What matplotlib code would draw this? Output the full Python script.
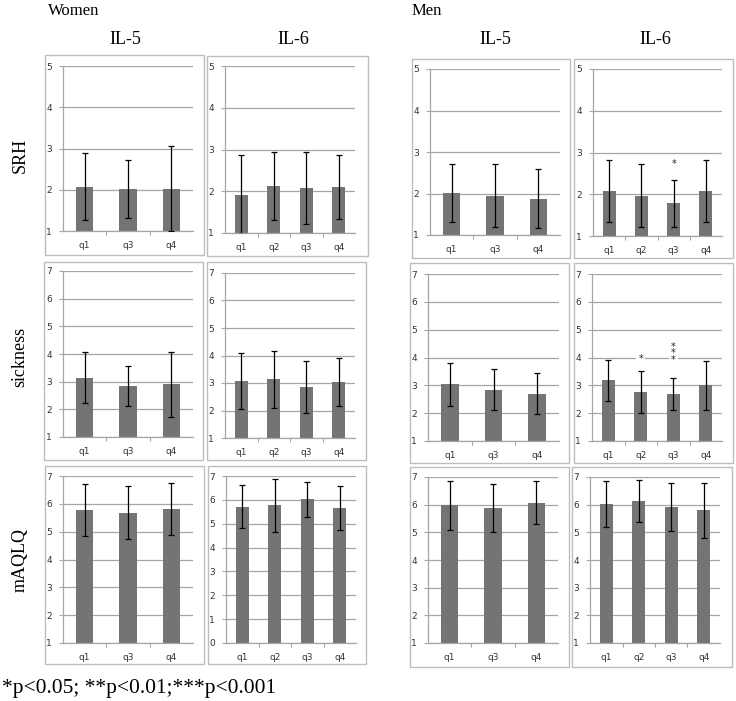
import matplotlib
matplotlib.use("Agg")
import matplotlib.pyplot as plt
from matplotlib.patches import Rectangle

W, H = 736, 701

cats3 = ["q1", "q3", "q4"]
cats4 = ["q1", "q2", "q3", "q4"]

# means / symmetric SD
w_srh_il5 = [2.07, 2.02, 2.02]
w_srh_il5_sd = [0.81, 0.70, 1.03]
w_srh_il6 = [1.92, 2.12, 2.07, 2.10]
w_srh_il6_sd = [0.94, 0.81, 0.86, 0.76]
m_srh_il5 = [2.02, 1.95, 1.87]
m_srh_il5_sd = [0.70, 0.76, 0.71]
m_srh_il6 = [2.07, 1.97, 1.78, 2.07]
m_srh_il6_sd = [0.74, 0.76, 0.57, 0.74]

w_sick_il5 = [3.15, 2.85, 2.90]
w_sick_il5_sd = [0.93, 0.73, 1.19]
w_sick_il6 = [3.08, 3.13, 2.85, 3.03]
w_sick_il6_sd = [1.01, 1.04, 0.94, 0.88]
m_sick_il5 = [3.03, 2.85, 2.70]
m_sick_il5_sd = [0.76, 0.75, 0.73]
m_sick_il6 = [3.18, 2.75, 2.70, 3.00]
m_sick_il6_sd = [0.74, 0.75, 0.58, 0.88]

w_aqlq_il5 = [5.78, 5.68, 5.82]
w_aqlq_il5_sd = [0.92, 0.95, 0.93]
w_aqlq_il6 = [5.72, 5.77, 6.02, 5.65]
w_aqlq_il6_sd = [0.90, 1.12, 0.74, 0.91]
m_aqlq_il5 = [5.97, 5.88, 6.07]
m_aqlq_il5_sd = [0.90, 0.88, 0.77]
m_aqlq_il6 = [6.02, 6.13, 5.93, 5.80]
m_aqlq_il6_sd = [0.84, 0.75, 0.87, 1.00]

# significance marks: (panel key, category index, y value, text)
sig_marks = [
    ("m_srh_il6", 2, 2.72, "*"),
    ("m_sick_il6", 1, 3.93, "*"),
    ("m_sick_il6", 2, 4.15, "*\n*\n*"),
]

# panel: frame px (x0, y0, x1, y1), axes px (x0, ytop, x1, ybottom), ylim
panels = {
    "w_srh_il5": (cats3, w_srh_il5, w_srh_il5_sd, (1, 5), (45, 55, 204, 255), (63, 66, 193, 231)),
    "w_srh_il6": (cats4, w_srh_il6, w_srh_il6_sd, (1, 5), (207, 56, 368, 256), (225, 66, 355, 233)),
    "m_srh_il5": (cats3, m_srh_il5, m_srh_il5_sd, (1, 5), (412, 59, 570, 258), (430, 69, 560, 235)),
    "m_srh_il6": (cats4, m_srh_il6, m_srh_il6_sd, (1, 5), (574, 59, 733, 258), (593, 69, 722, 236)),
    "w_sick_il5": (cats3, w_sick_il5, w_sick_il5_sd, (1, 7), (44, 262, 203, 460), (63, 271, 193, 437)),
    "w_sick_il6": (cats4, w_sick_il6, w_sick_il6_sd, (1, 7), (207, 262, 366, 460), (225, 273, 355, 438)),
    "m_sick_il5": (cats3, m_sick_il5, m_sick_il5_sd, (1, 7), (410, 263, 569, 463), (428, 274, 559, 441)),
    "m_sick_il6": (cats4, m_sick_il6, m_sick_il6_sd, (1, 7), (574, 263, 733, 463), (592, 274, 722, 441)),
    "w_aqlq_il5": (cats3, w_aqlq_il5, w_aqlq_il5_sd, (1, 7), (45, 466, 204, 664), (63, 476, 193, 643)),
    "w_aqlq_il6": (cats4, w_aqlq_il6, w_aqlq_il6_sd, (0, 7), (208, 466, 366, 664), (226, 476, 356, 643)),
    "m_aqlq_il5": (cats3, m_aqlq_il5, m_aqlq_il5_sd, (1, 7), (410, 467, 569, 667), (428, 477, 558, 643)),
    "m_aqlq_il6": (cats4, m_aqlq_il6, m_aqlq_il6_sd, (1, 7), (572, 467, 732, 667), (590, 477, 720, 643)),
}

GRID = "#a6a6a6"
BAR = "#747474"
FRAME = "#bdbdbd"

fig = plt.figure(figsize=(W / 100, H / 100), dpi=100)
fig.patch.set_facecolor("white")


def fx(x):
    return x / W


def fy(y):
    return 1 - y / H


axes = {}
for key, (cats, vals, sd, ylim, frame, box) in panels.items():
    x0, y0, x1, y1 = frame
    fig.patches.append(Rectangle((fx(x0), fy(y1)), (x1 - x0) / W, (y1 - y0) / H,
                                 transform=fig.transFigure, facecolor="none",
                                 edgecolor=FRAME, linewidth=1.0))
    ax0, at, ax1, ab = box
    ax = fig.add_axes([fx(ax0), fy(ab), (ax1 - ax0) / W, (ab - at) / H])
    xs = range(len(cats))
    ax.bar(xs, vals, width=0.4, color=BAR, zorder=2)
    ax.errorbar(xs, vals, yerr=sd, fmt="none", ecolor="black", elinewidth=0.9,
                capsize=2.2, capthick=0.9, zorder=3)
    ax.set_ylim(*ylim)
    ax.set_xlim(-0.5, len(cats) - 0.5)
    ax.set_yticks(range(ylim[0], ylim[1] + 1))
    ax.yaxis.grid(True, color=GRID, linewidth=0.9)
    ax.set_axisbelow(True)
    ax.set_xticks(list(xs))
    ax.set_xticklabels(cats)
    ax.set_xticks([i + 0.5 for i in range(len(cats) - 1)], minor=True)
    ax.tick_params(axis="x", which="major", length=0, labelsize=6.5, colors="#333333", pad=7)
    ax.tick_params(axis="x", which="minor", length=3, color=GRID, width=0.8)
    ax.tick_params(axis="y", length=3, color=GRID, width=0.8, labelsize=6.5,
                   labelcolor="#333333", pad=5)
    for s in ("top", "right"):
        ax.spines[s].set_visible(False)
    for s in ("left", "bottom"):
        ax.spines[s].set_color(GRID)
        ax.spines[s].set_linewidth(0.9)
    ax.set_facecolor("none")
    axes[key] = ax

for key, idx, yv, txt in sig_marks:
    axes[key].text(idx, yv, txt, ha="center", va="center", fontsize=7,
                   linespacing=0.55, color="#222222", zorder=4,
                   bbox=dict(facecolor="white", edgecolor="none", pad=1.5))

serif = "Liberation Serif"
fig.text(fx(48), fy(11), "Women", fontsize=12, family=serif, ha="left", va="center")
fig.text(fx(412), fy(11), "Men", fontsize=12, family=serif, ha="left", va="center")
for xc, lab in [(125, "IL-5"), (293, "IL-6"), (495, "IL-5"), (655, "IL-6")]:
    fig.text(fx(xc), fy(40), lab, fontsize=13, family=serif, ha="center", va="center")
for yc, lab in [(155, "SRH"), (357, "sickness"), (560, "mAQLQ")]:
    fig.text(fx(20), fy(yc), lab, fontsize=13, family=serif, rotation=90,
             ha="center", va="center")
fig.text(fx(2), fy(689), "*p<0.05; **p<0.01;***p<0.001", fontsize=15.5, family=serif,
         ha="left", va="center")

fig.savefig("out.png", dpi=100)
